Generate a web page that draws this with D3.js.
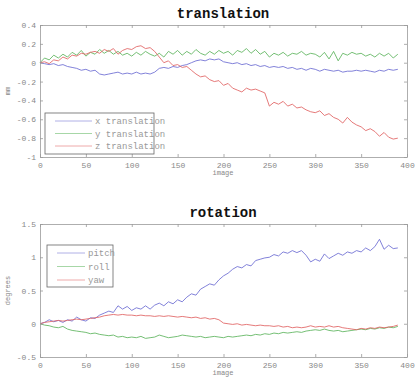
<!DOCTYPE html>
<html>
<head>
<meta charset="utf-8">
<script src="https://cdn.jsdelivr.net/npm/d3@7"></script>
<style>
  body { margin: 0; background: #fff; }
  svg { display: block; }
</style>
</head>
<body>
<div class="center"></div>
<script>
// image index (every 5th image)
const images = [0,5,10,15,20,25,30,35,40,45,50,55,60,65,70,75,80,85,90,95,
  100,105,110,115,120,125,130,135,140,145,150,155,160,165,170,175,180,185,190,195,
  200,205,210,215,220,225,230,235,240,245,250,255,260,265,270,275,280,285,290,295,
  300,305,310,315,320,325,330,335,340,345,350,355,360,365,370,375,380,385,390];

// translation (mm)
const xTranslation = [0,-0.01,-0.02,-0.01,-0.03,-0.02,-0.04,-0.05,-0.06,-0.08,
  -0.07,-0.09,-0.08,-0.12,-0.13,-0.12,-0.11,-0.10,-0.12,-0.11,
  -0.12,-0.10,-0.12,-0.11,-0.12,-0.10,-0.06,-0.05,-0.06,-0.04,
  -0.05,-0.03,-0.02,0.0,0.02,0.03,0.02,0.04,0.03,0.04,
  0.01,0.0,-0.01,0.0,-0.02,-0.01,-0.03,-0.02,-0.04,-0.03,
  -0.05,-0.04,-0.05,-0.04,-0.06,-0.05,-0.07,-0.06,-0.08,-0.06,
  -0.07,-0.09,-0.07,-0.08,-0.09,-0.08,-0.10,-0.09,-0.09,-0.08,
  -0.09,-0.08,-0.09,-0.10,-0.08,-0.09,-0.07,-0.08,-0.07];
const yTranslation = [0,0.05,0.03,0.08,0.05,0.09,0.06,0.11,0.08,0.13,
  0.07,0.11,0.09,0.14,0.1,0.13,0.09,0.12,0.08,0.1,
  0.07,0.11,0.08,0.12,0.09,0.07,0.1,0.06,0.12,0.09,
  0.13,0.08,0.12,0.09,0.14,0.1,0.08,0.12,0.09,0.13,
  0.1,0.12,0.08,0.13,0.11,0.15,0.1,0.14,0.09,0.12,
  0.06,0.1,0.08,0.11,0.07,0.1,0.09,0.12,0.08,0.1,
  0.09,0.06,0.11,0.04,0.12,0.02,0.1,0.08,0.11,0.09,
  0.1,0.07,0.09,0.06,0.1,0.07,0.1,0.05,0.09];
const zTranslation = [0,0.01,-0.01,0.03,0.02,0.06,0.04,0.08,0.07,0.1,
  0.09,0.11,0.12,0.1,0.14,0.12,0.15,0.09,0.13,0.15,
  0.14,0.17,0.18,0.15,0.16,0.12,0.06,0.0,0.02,-0.03,
  -0.02,-0.05,-0.04,-0.08,-0.12,-0.15,-0.14,-0.18,-0.2,-0.19,
  -0.24,-0.22,-0.27,-0.29,-0.31,-0.27,-0.29,-0.28,-0.3,-0.32,
  -0.46,-0.42,-0.44,-0.41,-0.46,-0.44,-0.48,-0.47,-0.5,-0.52,
  -0.53,-0.51,-0.56,-0.54,-0.58,-0.6,-0.64,-0.58,-0.63,-0.66,
  -0.68,-0.72,-0.7,-0.73,-0.78,-0.74,-0.79,-0.81,-0.8];

// rotation (degrees)
const pitch = [0,0.02,0.06,0.03,0.05,0.02,0.06,0.04,0.1,0.06,
  0.04,0.09,0.08,0.13,0.16,0.19,0.17,0.27,0.22,0.26,
  0.2,0.24,0.22,0.27,0.22,0.28,0.31,0.27,0.33,0.3,
  0.36,0.33,0.4,0.45,0.43,0.52,0.56,0.6,0.58,0.66,
  0.72,0.76,0.82,0.86,0.84,0.89,0.87,0.95,0.97,0.99,
  1.0,1.04,1.02,1.08,1.06,1.1,1.07,1.1,1.03,0.93,
  0.97,0.94,1.05,0.98,1.02,1.06,1.03,1.08,1.06,1.1,
  1.08,1.14,1.1,1.16,1.27,1.12,1.18,1.13,1.14];
const roll = [0,-0.02,-0.03,-0.05,-0.06,-0.04,-0.08,-0.1,-0.11,-0.12,
  -0.13,-0.15,-0.14,-0.16,-0.17,-0.18,-0.17,-0.2,-0.19,-0.21,
  -0.2,-0.21,-0.19,-0.22,-0.21,-0.2,-0.17,-0.19,-0.21,-0.2,
  -0.19,-0.17,-0.18,-0.19,-0.2,-0.19,-0.21,-0.2,-0.19,-0.2,
  -0.21,-0.19,-0.2,-0.19,-0.18,-0.17,-0.18,-0.16,-0.17,-0.15,
  -0.16,-0.14,-0.15,-0.13,-0.14,-0.13,-0.12,-0.13,-0.11,-0.1,
  -0.09,-0.1,-0.08,-0.1,-0.11,-0.1,-0.12,-0.11,-0.1,-0.09,
  -0.08,-0.09,-0.07,-0.08,-0.06,-0.07,-0.05,-0.06,-0.04];
const yaw = [0,0.02,0.03,0.04,0.05,0.04,0.05,0.06,0.07,0.06,
  0.07,0.08,0.09,0.1,0.12,0.13,0.14,0.13,0.14,0.13,
  0.13,0.12,0.13,0.12,0.12,0.11,0.12,0.11,0.12,0.11,
  0.1,0.11,0.1,0.09,0.1,0.08,0.09,0.07,0.08,0.06,
  0.01,0.0,-0.01,0.0,-0.02,-0.01,-0.02,-0.03,-0.02,-0.03,
  -0.03,-0.04,-0.03,-0.05,-0.04,-0.06,-0.05,-0.06,-0.05,-0.03,
  -0.05,-0.04,-0.05,-0.03,-0.05,-0.04,-0.06,-0.07,-0.08,-0.09,
  -0.07,-0.08,-0.06,-0.07,-0.05,-0.06,-0.05,-0.04,-0.02];

const xTicks = [0,50,100,150,200,250,300,350,400];
const transTicks = [0.4,0.2,0,-0.2,-0.4,-0.6,-0.8,-1];
const rotTicks = [1.5,1,0.5,0,-0.5];

const transNames = ["x translation","y translation","z translation"];
const rotNames = ["pitch","roll","yaw"];
const colors = ["#6c6cd2","#5cb45c","#e06262"];

const W = 416, H = 379;
const svg = d3.select(".center").append("svg")
  .attr("width", W).attr("height", H);

const xScale = d3.scaleLinear().domain([0, 400]).range([40, 407]);

function drawPanel(opt) {
  const yScale = d3.scaleLinear().domain(opt.domain).range([opt.bottom, opt.top]);
  const g = svg.append("g");

  // series
  const line = d3.line()
    .x((d, i) => xScale(images[i]))
    .y(d => yScale(d));
  opt.series.forEach((s, k) => {
    g.append("path")
      .datum(s)
      .attr("fill", "none")
      .attr("stroke", colors[k])
      .attr("stroke-width", 0.85)
      .attr("d", line);
  });

  // axes, ticks pointing inward on all four sides
  const tickLen = 3;
  const axisFont = "'Liberation Mono', monospace";
  const bottomAx = g.append("g")
    .attr("transform", `translate(0,${opt.bottom})`)
    .call(d3.axisBottom(xScale).tickValues(xTicks).tickSizeInner(-tickLen).tickSizeOuter(0).tickPadding(5).tickFormat(d3.format("d")));
  const topAx = g.append("g")
    .attr("transform", `translate(0,${opt.top})`)
    .call(d3.axisTop(xScale).tickValues(xTicks).tickSizeInner(-tickLen).tickSizeOuter(0).tickFormat(""));
  const leftAx = g.append("g")
    .attr("transform", `translate(40,0)`)
    .call(d3.axisLeft(yScale).tickValues(opt.ticks).tickSizeInner(-tickLen).tickSizeOuter(0).tickPadding(4).tickFormat(d => String(d)));
  const rightAx = g.append("g")
    .attr("transform", `translate(407,0)`)
    .call(d3.axisRight(yScale).tickValues(opt.ticks).tickSizeInner(-tickLen).tickSizeOuter(0).tickFormat(""));

  [bottomAx, topAx, leftAx, rightAx].forEach(a => {
    a.select(".domain").attr("stroke", "#999").attr("stroke-width", 0.8);
    a.selectAll(".tick line").attr("stroke", "#999").attr("stroke-width", 0.8);
    a.selectAll("text")
      .attr("fill", "#888")
      .style("font-family", axisFont)
      .style("font-size", "8px");
  });

  // title
  svg.append("text")
    .attr("x", 223).attr("y", opt.top - 7)
    .attr("text-anchor", "middle")
    .style("font-family", "'Liberation Mono', monospace")
    .style("font-weight", "700")
    .style("font-size", "14px")
    .attr("fill", "#111")
    .text(opt.title);

  // x label
  svg.append("text")
    .attr("x", 223).attr("y", opt.bottom + 18)
    .attr("text-anchor", "middle")
    .style("font-family", axisFont)
    .style("font-size", "7px")
    .attr("fill", "#888")
    .text("image");

  // y label
  svg.append("text")
    .attr("transform", `translate(10,${(opt.top + opt.bottom) / 2}) rotate(-90)`)
    .attr("text-anchor", "middle")
    .style("font-family", axisFont)
    .style("font-size", "7px")
    .attr("fill", "#888")
    .text(opt.ylabel);

  // legend
  const lg = opt.legend;
  svg.append("rect")
    .attr("x", lg.x).attr("y", lg.y)
    .attr("width", lg.w).attr("height", lg.h)
    .attr("fill", "#fff")
    .attr("stroke", "#666")
    .attr("stroke-width", 0.8);
  opt.names.forEach((n, k) => {
    const yy = lg.y + 8 + k * lg.step;
    svg.append("line")
      .attr("x1", lg.x + 10).attr("x2", lg.x + 10 + lg.len)
      .attr("y1", yy).attr("y2", yy)
      .attr("stroke", colors[k])
      .attr("stroke-opacity", 0.6)
      .attr("stroke-width", 0.9);
    svg.append("text")
      .attr("x", lg.x + 13 + lg.len).attr("y", yy + 3)
      .style("font-family", axisFont)
      .style("font-size", "9px")
      .attr("fill", "#999")
      .text(n);
  });
}

drawPanel({
  title: "translation", ylabel: "mm",
  top: 25, bottom: 157, domain: [-1, 0.4], ticks: transTicks,
  series: [xTranslation, yTranslation, zTranslation],
  names: transNames,
  legend: {x: 45, y: 113, w: 109, h: 41, step: 12.5, len: 37}
});

drawPanel({
  title: "rotation", ylabel: "degrees",
  top: 224, bottom: 357, domain: [-0.5, 1.5], ticks: rotTicks,
  series: [pitch, roll, yaw],
  names: rotNames,
  legend: {x: 47, y: 245, w: 66, h: 42, step: 13.5, len: 28}
});
</script>
</body>
</html>
